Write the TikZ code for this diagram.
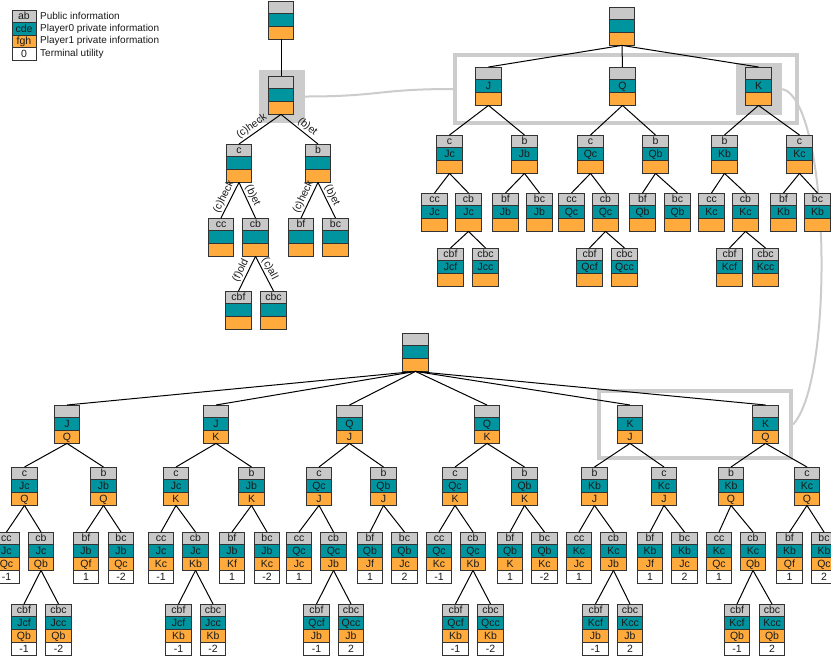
\documentclass[tikz,border=0pt]{standalone}
\usepackage{fontspec}
\setmainfont{Liberation Sans}
\definecolor{cgray}{HTML}{C8C8C8}
\definecolor{cteal}{HTML}{00949F}
\definecolor{corange}{HTML}{FFAA3C}
\definecolor{cborder}{HTML}{333333}
\definecolor{chl}{HTML}{CCCCCC}
\definecolor{ctext}{HTML}{1A1A1A}
\tikzset{
  cellg/.style={fill=cgray, draw=cborder, line width=1pt},
  cellt/.style={fill=cteal, draw=cborder, line width=1pt},
  cello/.style={fill=corange, draw=cborder, line width=1pt},
  cellw/.style={fill=white, draw=cborder, line width=1pt},
  celltext/.style={inner sep=0pt, text height=7pt, text depth=0pt, text=ctext, font=\fontsize{10.5}{11}\selectfont},
  boxnode/.style={rectangle, inner sep=0pt, outer sep=0pt, minimum width=25.5pt, draw=none},
  edge/.style={draw=black, line width=1pt},
  elab/.style={inner sep=1.5pt, text=ctext, font=\fontsize{10.5}{11}\selectfont},
  hlfill/.style={rectangle, fill=chl, draw=none, inner sep=0pt},
  hlframe/.style={rectangle, draw=chl, line width=4pt, inner sep=0pt},
  linkcurve/.style={draw=chl, line width=2pt},
  legtext/.style={anchor=west, inner sep=0pt, text=ctext, font=\fontsize{10}{11}\selectfont},
}
% text in a cell, only when not empty: name, x, y, text
\newcommand{\ctxt}[4]{%
  \def\mytmptext{#4}%
  \ifx\mytmptext\empty\else\node[celltext] (#1) at (#2,#3) {#4};\fi
}
% three-cell box: name, cx, top, gray, teal, orange
\newcommand{\tb}[6]{%
  \path[cellg] (#2-12.75,#3) rectangle (#2+12.75,#3+12.8);
  \path[cellt] (#2-12.75,#3+12.8) rectangle (#2+12.75,#3+25.6);
  \path[cello] (#2-12.75,#3+25.6) rectangle (#2+12.75,#3+38.4);
  \ctxt{#1-g}{#2}{#3+6.4}{#4}%
  \ctxt{#1-t}{#2}{#3+19.2}{#5}%
  \ctxt{#1-o}{#2}{#3+32}{#6}%
  \node[boxnode, minimum height=38.4pt] (#1) at (#2,#3+19.2) {};
}
% four-cell leaf box with utility
\newcommand{\lb}[7]{%
  \path[cellg] (#2-12.75,#3) rectangle (#2+12.75,#3+12.8);
  \path[cellt] (#2-12.75,#3+12.8) rectangle (#2+12.75,#3+25.6);
  \path[cello] (#2-12.75,#3+25.6) rectangle (#2+12.75,#3+38.4);
  \path[cellw] (#2-12.75,#3+38.4) rectangle (#2+12.75,#3+51.2);
  \ctxt{#1-g}{#2}{#3+6.4}{#4}%
  \ctxt{#1-t}{#2}{#3+19.2}{#5}%
  \ctxt{#1-o}{#2}{#3+32}{#6}%
  \ctxt{#1-u}{#2}{#3+44.8}{#7}%
  \node[boxnode, minimum height=51.2pt] (#1) at (#2,#3+25.6) {};
}
\begin{document}
\begin{tikzpicture}[x=1pt,y=-1pt]
\useasboundingbox (0,0) rectangle (831,657);
\clip (0,0) rectangle (831,657);
\fill[white] (0,0) rectangle (831,657);

% ---------- legend ----------
\path[cellg] (12,10) rectangle (36,22.5);
\path[cellt] (12,22.5) rectangle (36,35);
\path[cello] (12,35) rectangle (36,47.5);
\path[cellw] (12,47.5) rectangle (36,60);
\node[celltext] (lg1) at (24,16.25) {ab};
\node[celltext] (lg2) at (24,28.75) {cde};
\node[celltext] (lg3) at (24,41.25) {fgh};
\node[celltext] (lg4) at (24,53.75) {0};
\node[legtext] (lt1) at (40,16.25) {Public information};
\node[legtext] (lt2) at (40,28.75) {Player0 private information};
\node[legtext] (lt3) at (40,41.25) {Player1 private information};
\node[legtext] (lt4) at (40,53.75) {Terminal utility};

% ---------- highlights ----------
\node[hlfill, minimum width=46pt, minimum height=53pt] (hl1) at (282,96.5) {};
\node[hlframe, minimum width=342pt, minimum height=68pt] (frTR) at (626,89) {};
\node[hlfill, minimum width=46pt, minimum height=52pt] (hlK) at (759,89) {};
\node[hlframe, minimum width=192pt, minimum height=67pt] (frB) at (695,424.5) {};
\draw[linkcurve] (hl1.east) .. controls +(75,0) and +(-75,0) .. (frTR.west);
\draw[linkcurve] (hlK.east) .. controls (830,100) and (835,380) .. (frB.east);

% ---------- top-left tree ----------
\tb{tl0}{281}{1}{}{}{}
\tb{tl1}{281}{76}{}{}{}
\tb{tlc}{239}{144}{c}{}{}
\tb{tlb}{318}{144}{b}{}{}
\tb{tlcc}{221}{218}{cc}{}{}
\tb{tlcb}{255.5}{218}{cb}{}{}
\tb{tlbf}{301}{218}{bf}{}{}
\tb{tlbc}{335.5}{218}{bc}{}{}
\tb{tlcbf}{238.5}{291}{cbf}{}{}
\tb{tlcbc}{273.5}{291}{cbc}{}{}
\draw[edge] (tl0.south) -- (tl1.north);
\draw[edge] (tl1.south) -- node[elab, pos=0.6, sloped, above] {(c)heck} (tlc.north);
\draw[edge] (tl1.south) -- node[elab, pos=0.6, sloped, above] {(b)et} (tlb.north);
\draw[edge] (tlc.south) -- node[elab, pos=0.5, sloped, above] {(c)heck} (tlcc.north);
\draw[edge] (tlc.south) -- node[elab, pos=0.45, sloped, above] {(b)et} (tlcb.north);
\draw[edge] (tlb.south) -- node[elab, pos=0.5, sloped, above] {(c)heck} (tlbf.north);
\draw[edge] (tlb.south) -- node[elab, pos=0.45, sloped, above] {(b)et} (tlbc.north);
\draw[edge] (tlcb.south) -- node[elab, pos=0.5, sloped, above] {(f)old} (tlcbf.north);
\draw[edge] (tlcb.south) -- node[elab, pos=0.45, sloped, above] {(c)all} (tlcbc.north);

% ---------- top-right tree ----------
\tb{tr0}{622}{7}{}{}{}
\tb{trJ}{488.5}{67}{}{J}{}
\tb{trQ}{622.5}{67}{}{Q}{}
\tb{trK}{758.5}{67}{}{K}{}
\tb{trJc}{449.5}{135}{c}{Jc}{}
\tb{trJb}{524.5}{135}{b}{Jb}{}
\tb{trQc}{590.5}{135}{c}{Qc}{}
\tb{trQb}{655.5}{135}{b}{Qb}{}
\tb{trKb}{724.5}{135}{b}{Kb}{}
\tb{trKc}{799.5}{135}{c}{Kc}{}
\tb{trJcc}{434.5}{193}{cc}{Jc}{}
\tb{trJcb}{468.5}{193}{cb}{Jc}{}
\tb{trJbf}{505.5}{193}{bf}{Jb}{}
\tb{trJbc}{539.5}{193}{bc}{Jb}{}
\tb{trQcc}{571.5}{193}{cc}{Qc}{}
\tb{trQcb}{605.5}{193}{cb}{Qc}{}
\tb{trQbf}{642.5}{193}{bf}{Qb}{}
\tb{trQbc}{677.5}{193}{bc}{Qb}{}
\tb{trKcc}{711.5}{193}{cc}{Kc}{}
\tb{trKcb}{745.5}{193}{cb}{Kc}{}
\tb{trKbf}{783.5}{193}{bf}{Kb}{}
\tb{trKbc}{817.5}{193}{bc}{Kb}{}
\tb{trJcbf}{450.5}{248}{cbf}{Jcf}{}
\tb{trJcbc}{485.5}{248}{cbc}{Jcc}{}
\tb{trQcbf}{589.5}{248}{cbf}{Qcf}{}
\tb{trQcbc}{624.5}{248}{cbc}{Qcc}{}
\tb{trKcbf}{729.5}{248}{cbf}{Kcf}{}
\tb{trKcbc}{765.5}{248}{cbc}{Kcc}{}
\foreach \pa/\ch in {tr0/trJ, tr0/trQ, tr0/trK,
  trJ/trJc, trJ/trJb, trQ/trQc, trQ/trQb, trK/trKb, trK/trKc,
  trJc/trJcc, trJc/trJcb, trJb/trJbf, trJb/trJbc,
  trQc/trQcc, trQc/trQcb, trQb/trQbf, trQb/trQbc,
  trKb/trKcc, trKb/trKcb, trKc/trKbf, trKc/trKbc,
  trJcb/trJcbf, trJcb/trJcbc, trQcb/trQcbf, trQcb/trQcbc, trKcb/trKcbf, trKcb/trKcbc}
  \draw[edge] (\pa.south) -- (\ch.north);

% ---------- bottom tree ----------
\tb{b0}{415.5}{333}{}{}{}
\tb{bJQ}{67}{405}{}{J}{Q}
\tb{bJK}{216}{405}{}{J}{K}
\tb{bQJ}{349.5}{405}{}{Q}{J}
\tb{bQK}{487}{405}{}{Q}{K}
\tb{bKJ}{630}{405}{}{K}{J}
\tb{bKQ}{765.5}{405}{}{K}{Q}
\tb{bJQc}{24.5}{467}{c}{Jc}{Q}
\tb{bJQb}{103.5}{467}{b}{Jb}{Q}
\tb{bJKc}{176}{467}{c}{Jc}{K}
\tb{bJKb}{251.5}{467}{b}{Jb}{K}
\tb{bQJc}{319}{467}{c}{Qc}{J}
\tb{bQJb}{383.5}{467}{b}{Qb}{J}
\tb{bQKc}{455}{467}{c}{Qc}{K}
\tb{bQKb}{524.5}{467}{b}{Qb}{K}
\tb{bKJb}{594.5}{467}{b}{Kb}{J}
\tb{bKJc}{664}{467}{c}{Kc}{J}
\tb{bKQb}{731}{467}{b}{Kb}{Q}
\tb{bKQc}{807}{467}{c}{Kc}{Q}
\lb{bJQcc}{6.5}{532}{cc}{Jc}{Qc}{-1}
\tb{bJQcb}{41}{532}{cb}{Jc}{Qb}
\lb{bJQbf}{86}{532}{bf}{Jb}{Qf}{1}
\lb{bJQbc}{121}{532}{bc}{Jb}{Qc}{-2}
\lb{bJKcc}{161}{532}{cc}{Jc}{Kc}{-1}
\tb{bJKcb}{195.5}{532}{cb}{Jc}{Kb}
\lb{bJKbf}{232}{532}{bf}{Jb}{Kf}{1}
\lb{bJKbc}{267}{532}{bc}{Jb}{Kc}{-2}
\lb{bQJcc}{299}{532}{cc}{Qc}{Jc}{1}
\tb{bQJcb}{333.5}{532}{cb}{Qc}{Jb}
\lb{bQJbf}{370}{532}{bf}{Qb}{Jf}{1}
\lb{bQJbc}{404.5}{532}{bc}{Qb}{Jc}{2}
\lb{bQKcc}{439}{532}{cc}{Qc}{Kc}{-1}
\tb{bQKcb}{473}{532}{cb}{Qc}{Kb}
\lb{bQKbf}{510}{532}{bf}{Qb}{K}{1}
\lb{bQKbc}{544.5}{532}{bc}{Qb}{Kc}{-2}
\lb{bKJcc}{579}{532}{cc}{Kc}{Jc}{1}
\tb{bKJcb}{613.5}{532}{cb}{Kc}{Jb}
\lb{bKJbf}{650}{532}{bf}{Kb}{Jf}{1}
\lb{bKJbc}{684.5}{532}{bc}{Kb}{Jc}{2}
\lb{bKQcc}{719}{532}{cc}{Kc}{Qc}{1}
\tb{bKQcb}{753}{532}{cb}{Kc}{Qb}
\lb{bKQbf}{789.5}{532}{bf}{Kb}{Qf}{1}
\lb{bKQbc}{824}{532}{bc}{Kb}{Qc}{2}
\lb{bJQcbf}{24}{604}{cbf}{Jcf}{Qb}{-1}
\lb{bJQcbc}{58.5}{604}{cbc}{Jcc}{Qb}{-2}
\lb{bJKcbf}{178.5}{604}{cbf}{Jcf}{Kb}{-1}
\lb{bJKcbc}{213}{604}{cbc}{Jcc}{Kb}{-2}
\lb{bQJcbf}{316.5}{604}{cbf}{Qcf}{Jb}{-1}
\lb{bQJcbc}{351}{604}{cbc}{Qcc}{Jb}{2}
\lb{bQKcbf}{455.5}{604}{cbf}{Qcf}{Kb}{-1}
\lb{bQKcbc}{490.5}{604}{cbc}{Qcc}{Kb}{-2}
\lb{bKJcbf}{595.5}{604}{cbf}{Kcf}{Jb}{-1}
\lb{bKJcbc}{630}{604}{cbc}{Kcc}{Jb}{2}
\lb{bKQcbf}{737}{604}{cbf}{Kcf}{Qb}{-1}
\lb{bKQcbc}{772}{604}{cbc}{Kcc}{Qb}{2}
\foreach \pa/\ch in {b0/bJQ, b0/bJK, b0/bQJ, b0/bQK, b0/bKJ, b0/bKQ,
  bJQ/bJQc, bJQ/bJQb, bJK/bJKc, bJK/bJKb, bQJ/bQJc, bQJ/bQJb,
  bQK/bQKc, bQK/bQKb, bKJ/bKJb, bKJ/bKJc, bKQ/bKQb, bKQ/bKQc,
  bJQc/bJQcc, bJQc/bJQcb, bJQb/bJQbf, bJQb/bJQbc,
  bJKc/bJKcc, bJKc/bJKcb, bJKb/bJKbf, bJKb/bJKbc,
  bQJc/bQJcc, bQJc/bQJcb, bQJb/bQJbf, bQJb/bQJbc,
  bQKc/bQKcc, bQKc/bQKcb, bQKb/bQKbf, bQKb/bQKbc,
  bKJb/bKJcc, bKJb/bKJcb, bKJc/bKJbf, bKJc/bKJbc,
  bKQb/bKQcc, bKQb/bKQcb, bKQc/bKQbf, bKQc/bKQbc,
  bJQcb/bJQcbf, bJQcb/bJQcbc, bJKcb/bJKcbf, bJKcb/bJKcbc,
  bQJcb/bQJcbf, bQJcb/bQJcbc, bQKcb/bQKcbf, bQKcb/bQKcbc,
  bKJcb/bKJcbf, bKJcb/bKJcbc, bKQcb/bKQcbf, bKQcb/bKQcbc}
  \draw[edge] (\pa.south) -- (\ch.north);
\end{tikzpicture}
\end{document}
